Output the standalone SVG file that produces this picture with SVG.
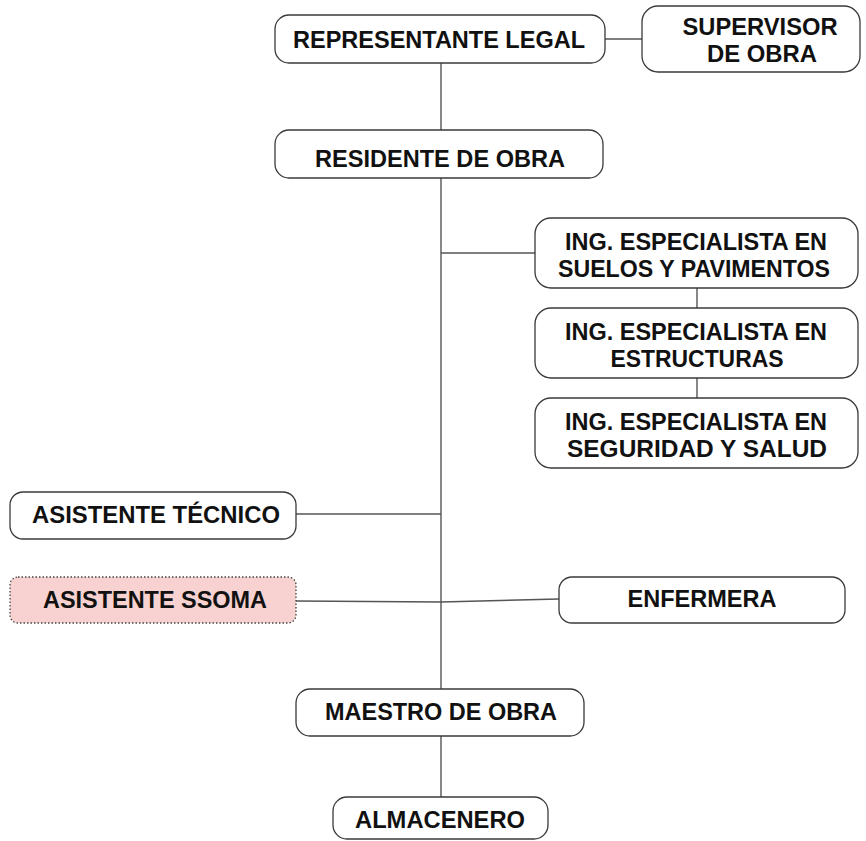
<svg xmlns="http://www.w3.org/2000/svg" width="866" height="841" viewBox="0 0 866 841">
<style>
.box{fill:#fff;stroke:#3a3a3a;stroke-width:1.3}
.pink{fill:#f7d2d0;stroke:#444;stroke-width:1.3;stroke-dasharray:1.5 2}
.lbl{font-family:"Liberation Sans",Arial,sans-serif;font-weight:bold;font-size:24px;fill:#111;text-anchor:middle}
.con{fill:none;stroke:#555;stroke-width:1.4}
</style>
<rect width="866" height="841" fill="#fff"/>
<g id="connectors">
<line class="con" x1="441" y1="63" x2="441" y2="689"/>
<line class="con" x1="605" y1="39" x2="642" y2="39"/>
<line class="con" x1="441" y1="253" x2="535" y2="253"/>
<line class="con" x1="697" y1="288" x2="697" y2="308"/>
<line class="con" x1="697" y1="378" x2="697" y2="398"/>
<line class="con" x1="296" y1="514" x2="441" y2="514"/>
<polyline class="con" points="296,601 441,602 559,599"/>
<line class="con" x1="441" y1="736" x2="441" y2="797"/>
</g>
<g id="representante-legal">
<rect class="box" x="275" y="15" width="330" height="48" rx="14"/>
<text class="lbl" x="439" y="48" textLength="292" lengthAdjust="spacingAndGlyphs">REPRESENTANTE LEGAL</text>
</g>
<g id="supervisor-de-obra">
<rect class="box" x="642" y="6" width="218" height="66" rx="16"/>
<text class="lbl" x="760" y="35" textLength="155" lengthAdjust="spacingAndGlyphs">SUPERVISOR</text>
<text class="lbl" x="762" y="62" textLength="110" lengthAdjust="spacingAndGlyphs">DE OBRA</text>
</g>
<g id="residente-de-obra">
<rect class="box" x="275" y="130" width="328" height="48" rx="14"/>
<text class="lbl" x="440" y="167" textLength="250" lengthAdjust="spacingAndGlyphs">RESIDENTE DE OBRA</text>
</g>
<g id="ing-suelos">
<rect class="box" x="535" y="218" width="323" height="70" rx="16"/>
<text class="lbl" x="696" y="250" textLength="262" lengthAdjust="spacingAndGlyphs">ING. ESPECIALISTA EN</text>
<text class="lbl" x="694" y="277" textLength="272" lengthAdjust="spacingAndGlyphs">SUELOS Y PAVIMENTOS</text>
</g>
<g id="ing-estructuras">
<rect class="box" x="535" y="308" width="323" height="70" rx="16"/>
<text class="lbl" x="696" y="340" textLength="262" lengthAdjust="spacingAndGlyphs">ING. ESPECIALISTA EN</text>
<text class="lbl" x="697" y="367" textLength="173" lengthAdjust="spacingAndGlyphs">ESTRUCTURAS</text>
</g>
<g id="ing-seguridad">
<rect class="box" x="535" y="398" width="323" height="70" rx="16"/>
<text class="lbl" x="696" y="430" textLength="262" lengthAdjust="spacingAndGlyphs">ING. ESPECIALISTA EN</text>
<text class="lbl" x="697" y="457" textLength="260" lengthAdjust="spacingAndGlyphs">SEGURIDAD Y SALUD</text>
</g>
<g id="asistente-tecnico">
<rect class="box" x="10" y="492" width="286" height="47" rx="13"/>
<text class="lbl" x="156" y="523" textLength="248" lengthAdjust="spacingAndGlyphs">ASISTENTE TÉCNICO</text>
</g>
<g id="asistente-ssoma">
<rect class="pink" x="10" y="577" width="286" height="46" rx="8"/>
<text class="lbl" x="155" y="608" textLength="224" lengthAdjust="spacingAndGlyphs">ASISTENTE SSOMA</text>
</g>
<g id="enfermera">
<rect class="box" x="559" y="577" width="286" height="46" rx="13"/>
<text class="lbl" x="702" y="607" textLength="149" lengthAdjust="spacingAndGlyphs">ENFERMERA</text>
</g>
<g id="maestro-de-obra">
<rect class="box" x="296" y="689" width="288" height="47" rx="14"/>
<text class="lbl" x="441" y="720" textLength="232" lengthAdjust="spacingAndGlyphs">MAESTRO DE OBRA</text>
</g>
<g id="almacenero">
<rect class="box" x="333" y="797" width="215" height="42" rx="14"/>
<text class="lbl" x="440" y="828" textLength="170" lengthAdjust="spacingAndGlyphs">ALMACENERO</text>
</g>
</svg>
